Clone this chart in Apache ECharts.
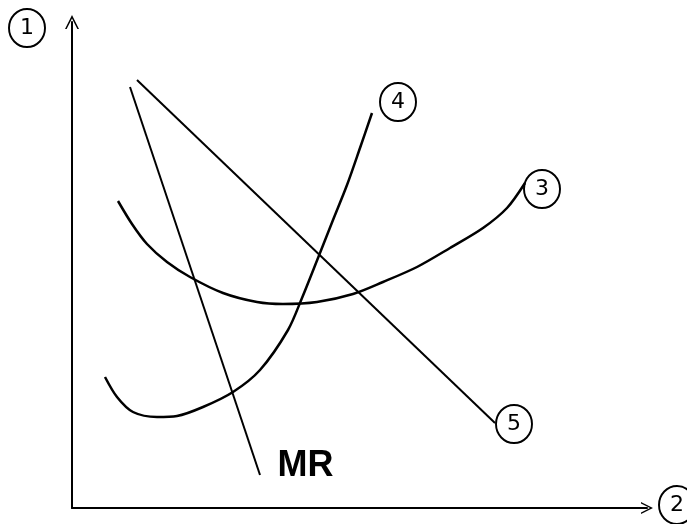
<!DOCTYPE html>
<html lang="en" style="height: 100%">
<head>
  <meta charset="utf-8">
</head>
<body style="height: 100%; margin: 0; background: #fff">
  <div id="container" style="width: 687px; height: 524px"></div>
  <script type="text/javascript" src="https://fastly.jsdelivr.net/npm/echarts@6.0.0/dist/echarts.min.js"></script>
  <script type="text/javascript">
    // curves (x = output, y = price/cost, arbitrary units)
    var atcCurve = [[46, 307], [60, 284], [75, 264], [95, 246], [118, 231], [151, 215], [185, 206], [211, 204],
      [245, 206], [281, 214], [311, 226], [345, 241], [378, 260], [411, 280], [435, 300], [453, 325]];
    var mcCurve = [[33, 131], [45, 111], [61, 96], [85, 91], [105, 92], [131, 101], [161, 116], [188, 138],
      [216, 178], [230, 210], [246, 250], [261, 288], [275, 323], [288, 360], [300, 395]];
    var mrLine = [[58, 421], [188, 33]];
    var demandLine = [[65, 428], [423, 85]];

    // circled number labels and their anchor points
    var circleLabels = ['1', '2', '3', '4', '5'];
    var circlePoints = [[-45, 480], [605, 3], [470, 319], [326, 406], [442, 84]];
    var mrLabelPoint = [205, 42];

    var chevron = 'path://M0,12 L6,0 L12,12 L10.6,12 L6,3 L1.4,12 Z';

    var dom = document.getElementById('container');
    var myChart = echarts.init(dom, null, { renderer: 'canvas' });

    function curve(data, width, smooth) {
      return {
        type: 'line',
        data: data,
        smooth: smooth,
        showSymbol: false,
        silent: true,
        clip: false,
        lineStyle: { color: '#000', width: width }
      };
    }

    var option = {
      backgroundColor: '#fff',
      animation: false,
      grid: { left: 72, right: 40, top: 22, bottom: 16 },
      xAxis: {
        type: 'value', min: 0, max: 575,
        axisLine: { lineStyle: { color: '#000', width: 2 }, symbol: ['none', chevron], symbolSize: [12, 14] },
        axisTick: { show: false }, axisLabel: { show: false }, splitLine: { show: false }
      },
      yAxis: {
        type: 'value', min: 0, max: 486,
        axisLine: { lineStyle: { color: '#000', width: 2 }, symbol: ['none', chevron], symbolSize: [14, 18] },
        axisTick: { show: false }, axisLabel: { show: false }, splitLine: { show: false }
      },
      series: [
        curve(atcCurve, 2.5, 0.3),
        curve(mcCurve, 2.5, 0.3),
        curve(mrLine, 2, false),
        curve(demandLine, 2, false),
        {
          type: 'scatter',
          clip: false,
          silent: true,
          symbol: 'circle',
          symbolSize: [36, 38],
          itemStyle: { color: 'rgba(0,0,0,0)', borderColor: '#000', borderWidth: 2, opacity: 1 },
          label: {
            show: true, position: 'inside', color: '#000', opacity: 1,
            fontFamily: 'DejaVu Sans', fontSize: 22,
            formatter: function (p) { return circleLabels[p.dataIndex]; }
          },
          data: circlePoints
        },
        {
          type: 'scatter',
          clip: false,
          silent: true,
          symbolSize: 1,
          itemStyle: { color: 'rgba(0,0,0,0)' },
          label: {
            show: true, position: 'right', distance: 0, color: '#000', opacity: 1,
            fontFamily: 'Liberation Sans Narrow, Liberation Sans, sans-serif', fontWeight: 'bold', fontSize: 36,
            formatter: 'MR'
          },
          data: [mrLabelPoint]
        }
      ]
    };

    myChart.setOption(option);
    window.addEventListener('resize', myChart.resize);
  </script>
</body>
</html>
